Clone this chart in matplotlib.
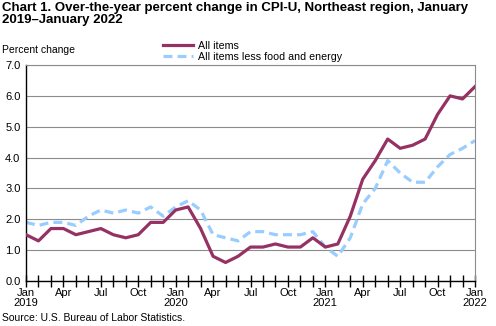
import matplotlib
matplotlib.use("Agg")
import matplotlib.pyplot as plt

plt.rcParams["font.family"] = ["Liberation Sans", "DejaVu Sans"]

months = list(range(37))  # Jan 2019 .. Jan 2022
all_items = [
    1.5, 1.3, 1.7, 1.7, 1.5, 1.6, 1.7, 1.5, 1.4, 1.5, 1.9, 1.9,
    2.3, 2.4, 1.7, 0.8, 0.6, 0.8, 1.1, 1.1, 1.2, 1.1, 1.1, 1.4,
    1.1, 1.2, 2.1, 3.3, 3.9, 4.6, 4.3, 4.4, 4.6, 5.4, 6.0, 5.9,
    6.3,
]
core = [
    1.9, 1.8, 1.9, 1.9, 1.8, 2.1, 2.3, 2.2, 2.3, 2.2, 2.4, 2.1,
    2.4, 2.6, 2.3, 1.5, 1.4, 1.3, 1.6, 1.6, 1.5, 1.5, 1.5, 1.6,
    1.1, 0.8, 1.4, 2.5, 3.0, 3.9, 3.5, 3.2, 3.2, 3.7, 4.1, 4.3,
    4.55,
]
tick_labels = ["Jan\n2019", "Apr", "Jul", "Oct", "Jan\n2020", "Apr", "Jul", "Oct",
               "Jan\n2021", "Apr", "Jul", "Oct", "Jan\n2022"]
y_ticks = [0.0, 1.0, 2.0, 3.0, 4.0, 5.0, 6.0, 7.0]

fig = plt.figure(figsize=(4.96, 3.26), dpi=100)
ax = fig.add_axes([26 / 496, 1 - 281 / 326, 449 / 496, 216 / 326])

ax.plot(months, all_items, color="#953163", linewidth=2.3, label="All items", zorder=3)
ax.plot(months, core, color="#99CCFF", linewidth=2.3, linestyle=(0, (2.8, 1.6)),
        label="All items less food and energy", zorder=2)

ax.set_xlim(0, 36)
ax.set_ylim(0, 7)
ax.set_yticks(y_ticks)
ax.set_yticklabels([f"{v:.1f}" for v in y_ticks], fontsize=8)
ax.tick_params(axis="y", length=0, pad=4)
ax.set_xticks(range(0, 37, 3))
ax.set_xticklabels(tick_labels, fontsize=8, linespacing=1.0)
ax.set_xticks(months, minor=True)
ax.tick_params(axis="x", which="both", direction="inout", length=8, width=1, pad=1, color="black")
ax.grid(axis="y", color="#8c8c8c", linewidth=0.8)
ax.set_axisbelow(True)

for side in ["top", "right"]:
    ax.spines[side].set_color("#8c8c8c")
    ax.spines[side].set_linewidth(0.8)
for side in ["left", "bottom"]:
    ax.spines[side].set_color("black")
    ax.spines[side].set_linewidth(1.0)

fig.text(2 / 496, 1 - 2 / 326,
         "Chart 1. Over-the-year percent change in CPI-U, Northeast region, January\n2019\u2013January 2022",
         fontsize=9.5, fontweight="bold", va="top", ha="left", linespacing=1.0)
fig.text(2 / 496, 1 - 50 / 326, "Percent change", fontsize=7.5, va="center", ha="left")
fig.text(2 / 496, 1 - 318 / 326, "Source: U.S. Bureau of Labor Statistics.", fontsize=7.5,
         va="center", ha="left")

ax.legend(loc="lower left", bbox_to_anchor=(163 / 496, 1 - 62 / 326), bbox_transform=fig.transFigure,
          frameon=False, fontsize=7.7, handlelength=2.8, handletextpad=0.5,
          labelspacing=0.1, borderpad=0, borderaxespad=0)

fig.savefig("out.png", dpi=100)
